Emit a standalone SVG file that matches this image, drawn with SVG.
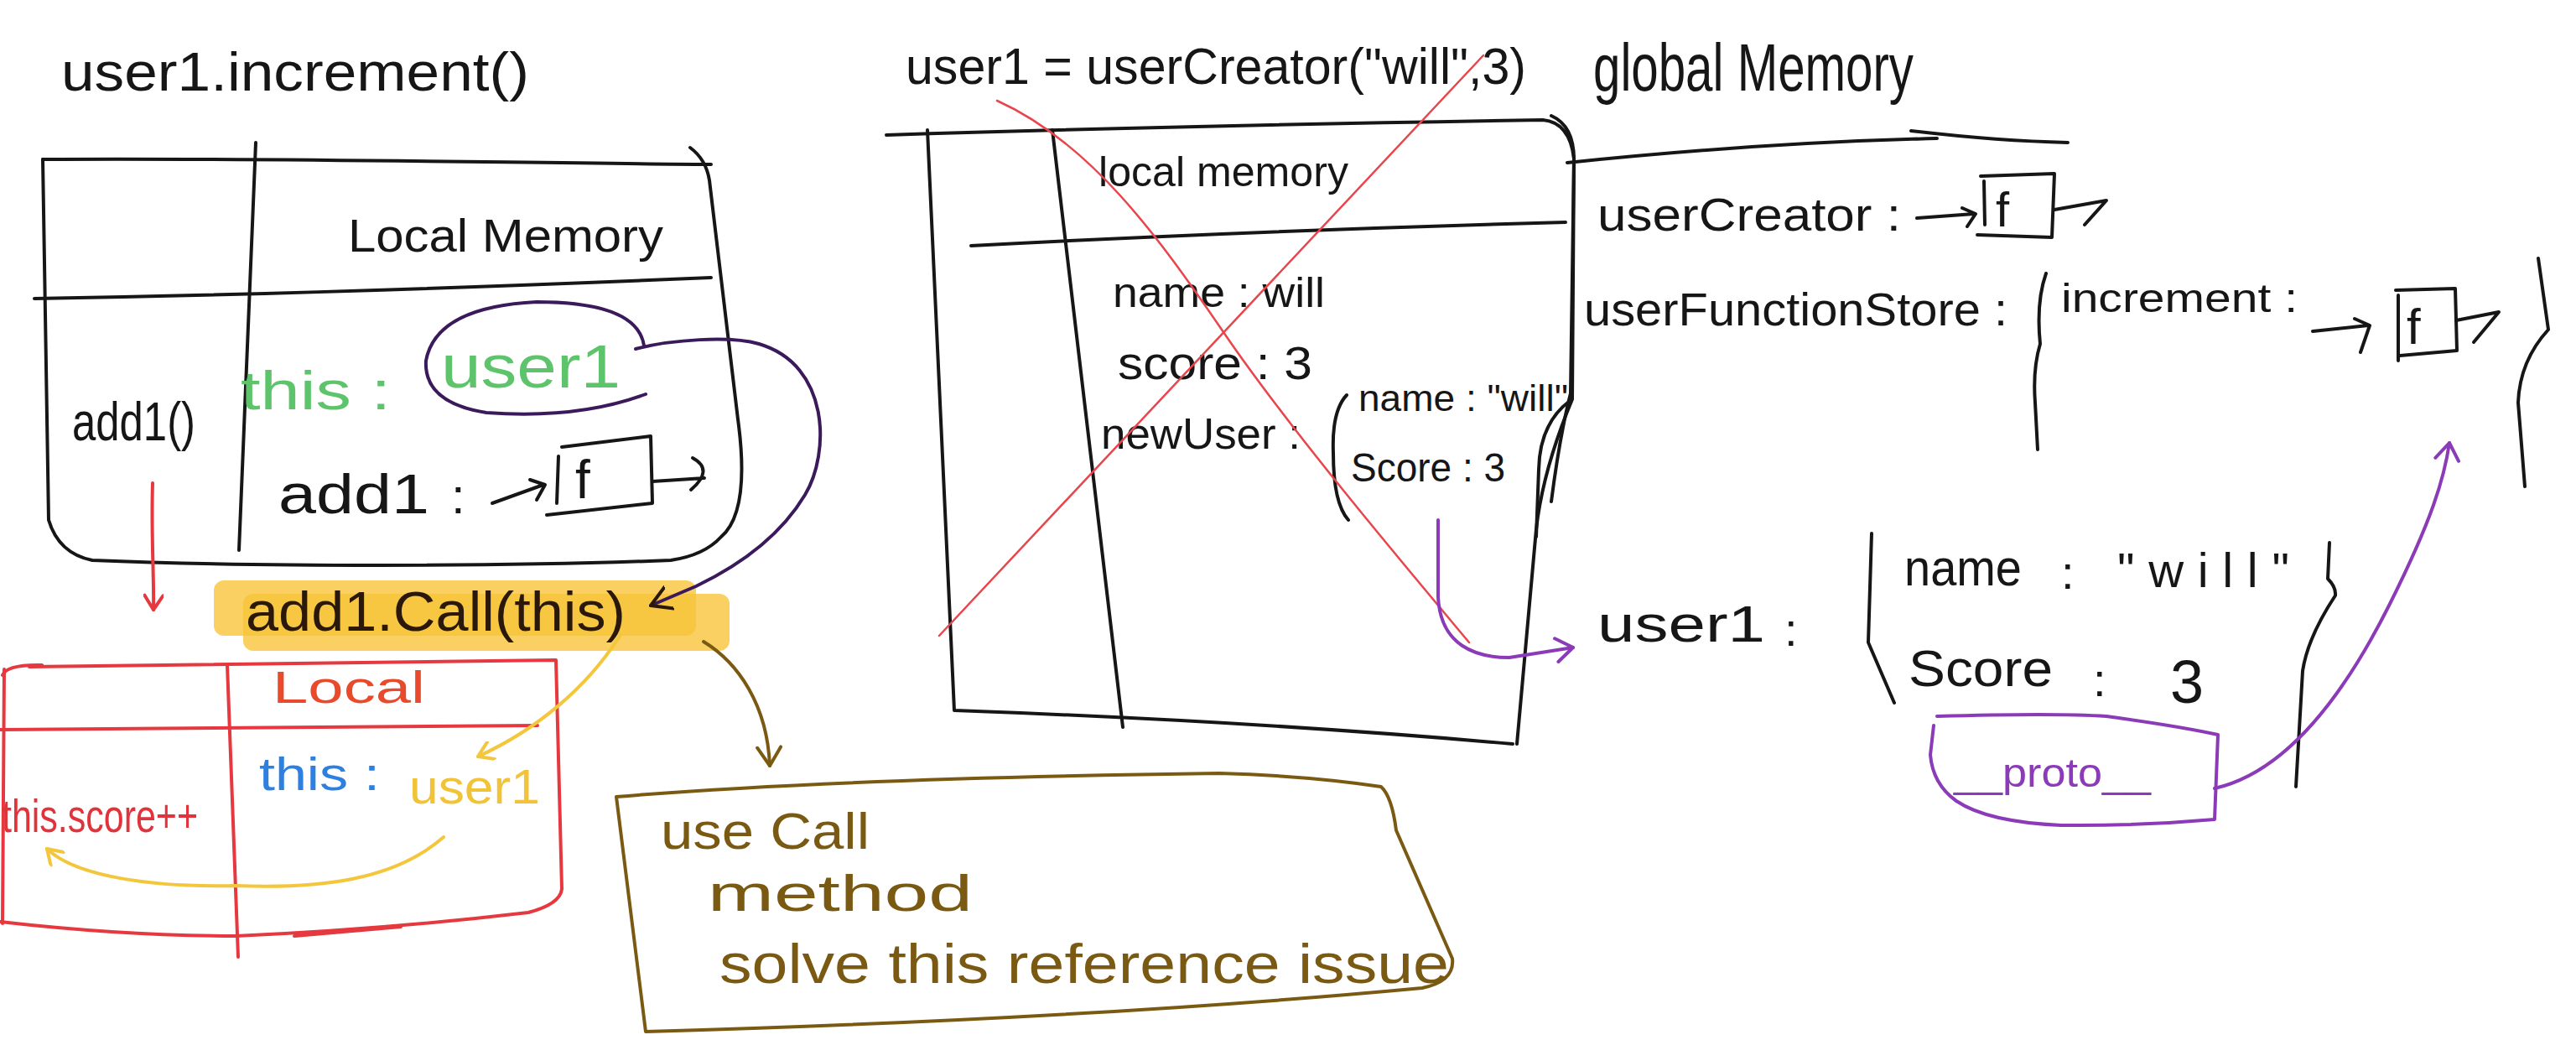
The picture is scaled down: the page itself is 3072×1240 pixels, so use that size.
<svg xmlns="http://www.w3.org/2000/svg" width="3072" height="1240" viewBox="0 0 3072 1240">
<style>
.ink{fill:none;stroke:#161616;stroke-width:4;stroke-linecap:round;stroke-linejoin:round}
.red{fill:none;stroke:#e5383f;stroke-width:4;stroke-linecap:round;stroke-linejoin:round}
.xred{fill:none;stroke:#e8454c;stroke-width:2.5;stroke-linecap:round}
.dpur{fill:none;stroke:#3b1a5c;stroke-width:4;stroke-linecap:round;stroke-linejoin:round}
.pur{fill:none;stroke:#8b3bb8;stroke-width:4;stroke-linecap:round;stroke-linejoin:round}
.yel{fill:none;stroke:#f3c63c;stroke-width:4;stroke-linecap:round;stroke-linejoin:round}
.olv{fill:none;stroke:#7a5a12;stroke-width:4;stroke-linecap:round;stroke-linejoin:round}
.t{font-family:"Liberation Sans",Arial,sans-serif;fill:#161616}
.tg{fill:#5ec46c}.tr{fill:#e0343c}.to{fill:#ea4a2c}.tb{fill:#2d7fe0}.ty{fill:#f1c338}.tol{fill:#7a5a12}.tp{fill:#8b3bb8}.td{fill:#2a180a}
.hl{fill:#f8c43a;opacity:.8}
</style>
<defs>
<marker id="ah-red" viewBox="-20 -12 24 24" refX="0" refY="0" markerWidth="24" markerHeight="24" markerUnits="userSpaceOnUse" orient="auto"><path d="M-17,-11 L0,0 L-17,11" fill="none" stroke="#e5383f" stroke-width="4" stroke-linecap="round" stroke-linejoin="round"/></marker>
<marker id="ah-yel" viewBox="-20 -12 24 24" refX="0" refY="0" markerWidth="24" markerHeight="24" markerUnits="userSpaceOnUse" orient="auto"><path d="M-17,-11 L0,0 L-17,11" fill="none" stroke="#f3c63c" stroke-width="4" stroke-linecap="round" stroke-linejoin="round"/></marker>
<marker id="ah-olv" viewBox="-24 -16 28 32" refX="0" refY="0" markerWidth="28" markerHeight="32" markerUnits="userSpaceOnUse" orient="auto"><path d="M-22,-14 L0,0 L-22,14" fill="none" stroke="#7a5a12" stroke-width="4" stroke-linecap="round" stroke-linejoin="round"/></marker>
<marker id="ah-pur" viewBox="-24 -16 28 32" refX="0" refY="0" markerWidth="28" markerHeight="32" markerUnits="userSpaceOnUse" orient="auto"><path d="M-20,-14 L0,0 L-20,14" fill="none" stroke="#8b3bb8" stroke-width="4" stroke-linecap="round" stroke-linejoin="round"/></marker>
<marker id="ah-dpur" viewBox="-24 -16 28 32" refX="0" refY="0" markerWidth="28" markerHeight="32" markerUnits="userSpaceOnUse" orient="auto"><path d="M-24,-14 L0,0 L-24,14" fill="none" stroke="#2a180a" stroke-width="4" stroke-linecap="round" stroke-linejoin="round"/></marker>
</defs>
<rect width="3072" height="1240" fill="#ffffff"/>

<g id="left-execution-context">
<text class="t" x="73" y="108" font-size="64" textLength="558" lengthAdjust="spacingAndGlyphs">user1.increment()</text>
<path class="ink" d="M51,190 C300,188 600,194 848,196"/>
<path class="ink" d="M823,176 Q842,190 846,215 L880,500 Q895,610 860,640 Q840,662 800,668 C600,676 300,676 110,668 Q70,660 58,620 L51,190"/>
<path class="ink" d="M305,170 L285,656"/>
<path class="ink" d="M41,356 Q400,350 848,331"/>
<text class="t" x="415" y="300" font-size="56" textLength="376" lengthAdjust="spacingAndGlyphs">Local Memory</text>
<text class="t" x="86" y="525" font-size="64" textLength="147" lengthAdjust="spacingAndGlyphs">add1()</text>
<text class="t tg" x="287" y="488" font-size="64" textLength="179" lengthAdjust="spacingAndGlyphs">this :</text>
<path class="dpur" d="M768,412 Q760,360 640,360 Q520,366 508,430 Q505,480 580,492 Q690,500 770,470"/>
<text class="t tg" x="526" y="462" font-size="72" textLength="214" lengthAdjust="spacingAndGlyphs">user1</text>
<text class="t" x="332" y="612" font-size="66" textLength="180" lengthAdjust="spacingAndGlyphs">add1</text>
<text class="t" x="538" y="612" font-size="60">:</text>
<path class="ink" d="M587,600 L648,578 M632,572 L650,578 L640,596"/>
<path class="ink" d="M670,533 L776,520 L778,600 L652,614 M666,544 L664,600"/>
<text class="t" x="686" y="594" font-size="64">f</text>
<path class="ink" d="M778,574 L840,570 M826,546 Q852,560 824,584"/>
</g>

<g id="call-highlight">
<rect class="hl" x="255" y="692" width="575" height="66" rx="12"/>
<rect class="hl" x="290" y="708" width="580" height="68" rx="12"/>
<text class="t td" x="293" y="752" font-size="66" textLength="453" lengthAdjust="spacingAndGlyphs">add1.Call(this)</text>
</g>

<g id="red-execution-context">
<path class="red" d="M3,805 Q8,792 50,793 M35,795 Q350,790 663,787 L670,1060 Q668,1078 630,1088 Q460,1108 281,1116 Q150,1116 0,1099"/>
<path class="red" d="M5,798 L3,1101"/>
<path class="red" d="M351,1116 L478,1105"/>
<path class="red" d="M0,870 L641,865"/>
<path class="red" d="M271,793 L284,1141"/>
<text class="t to" x="325" y="838" font-size="54" textLength="182" lengthAdjust="spacingAndGlyphs">Local</text>
<text class="t tb" x="309" y="942" font-size="56" textLength="144" lengthAdjust="spacingAndGlyphs">this :</text>
<text class="t ty" x="488" y="958" font-size="58" textLength="156" lengthAdjust="spacingAndGlyphs">user1</text>
<text class="t tr" x="2" y="992" font-size="56" textLength="234" lengthAdjust="spacingAndGlyphs">this.score++</text>
</g>

<g id="note-box">
<path class="olv" d="M735,950 Q1000,928 1454,922 Q1560,925 1647,938 Q1660,950 1665,990 L1732,1143 Q1735,1170 1696,1178 Q1300,1215 770,1230 L735,950"/>
<text class="t tol" x="788" y="1012" font-size="62" textLength="249" lengthAdjust="spacingAndGlyphs">use Call</text>
<text class="t tol" x="844" y="1086" font-size="62" textLength="316" lengthAdjust="spacingAndGlyphs">method</text>
<text class="t tol" x="858" y="1172" font-size="66" textLength="870" lengthAdjust="spacingAndGlyphs">solve this reference issue</text>
</g>

<g id="usercreator-execution-context">
<text class="t" x="1080" y="100" font-size="62" textLength="740" lengthAdjust="spacingAndGlyphs">user1 = userCreator("will",3)</text>
<path class="ink" d="M1057,161 Q1400,150 1840,143 Q1872,146 1877,189 L1875,476 Q1840,560 1832,631 L1809,887"/>
<path class="ink" d="M1106,155 L1138,847 Q1500,860 1804,887"/>
<path class="ink" d="M1255,155 L1339,867"/>
<path class="ink" d="M1158,293 Q1500,275 1867,265"/>
<text class="t" x="1310" y="222" font-size="50" textLength="298" lengthAdjust="spacingAndGlyphs">local memory</text>
<text class="t" x="1327" y="366" font-size="50" textLength="253" lengthAdjust="spacingAndGlyphs">name : will</text>
<text class="t" x="1333" y="452" font-size="56" textLength="232" lengthAdjust="spacingAndGlyphs">score : 3</text>
<text class="t" x="1313" y="535" font-size="52" textLength="238" lengthAdjust="spacingAndGlyphs">newUser :</text>
<path class="ink" d="M1606,471 Q1588,490 1590,540 Q1590,600 1608,620"/>
<text class="t" x="1620" y="490" font-size="44" textLength="250" lengthAdjust="spacingAndGlyphs">name : "will"</text>
<text class="t" x="1611" y="574" font-size="48" textLength="184" lengthAdjust="spacingAndGlyphs">Score : 3</text>
<path class="ink" d="M1872,478 Q1836,505 1835,560 L1832,640"/>
<path class="xred" d="M1189,120 C1300,170 1380,280 1459,396 S1680,680 1752,766"/>
<path class="xred" d="M1769,66 L1120,758"/>
</g>

<g id="global-memory">
<text class="t" x="1900" y="108" font-size="80" textLength="382" lengthAdjust="spacingAndGlyphs">global Memory</text>
<path class="ink" d="M1850,138 Q1877,150 1877,190 L1873,469 Q1860,520 1850,598"/>
<path class="ink" d="M1869,194 Q2100,170 2310,165 M2279,156 Q2380,168 2466,170"/>
<text class="t" x="1905" y="275" font-size="56" textLength="362" lengthAdjust="spacingAndGlyphs">userCreator :</text>
<path class="ink" d="M2286,260 L2354,255 M2340,248 L2356,255 L2346,270"/>
<path class="ink" d="M2362,210 L2450,207 L2447,283 L2358,280 M2366,216 L2367,268"/>
<text class="t" x="2380" y="270" font-size="58">f</text>
<path class="ink" d="M2450,250 L2512,239 L2486,268"/>
<text class="t" x="1889" y="388" font-size="56" textLength="505" lengthAdjust="spacingAndGlyphs">userFunctionStore :</text>
<path class="ink" d="M2440,326 Q2428,360 2433,410 Q2424,440 2427,480 L2430,536"/>
<text class="t" x="2458" y="372" font-size="48" textLength="282" lengthAdjust="spacingAndGlyphs">increment :</text>
<path class="ink" d="M2758,395 L2824,388 M2808,380 L2826,388 L2815,420"/>
<path class="ink" d="M2857,346 L2928,344 L2930,418 L2862,424 M2860,352 L2860,430"/>
<text class="t" x="2870" y="410" font-size="60">f</text>
<path class="ink" d="M2929,382 L2980,372 L2950,408"/>
<path class="ink" d="M3027,308 L3039,393 Q3005,430 3003,480 L3011,580"/>
</g>

<g id="user1-object">
<text class="t" x="1905" y="765" font-size="62" textLength="200" lengthAdjust="spacingAndGlyphs">user1</text>
<text class="t" x="2128" y="770" font-size="56">:</text>
<path class="ink" d="M2232,636 L2228,766 L2259,838"/>
<text class="t" x="2271" y="698" font-size="62" textLength="140" lengthAdjust="spacingAndGlyphs">name</text>
<text class="t" x="2458" y="702" font-size="56">:</text>
<text class="t" x="2525" y="700" font-size="58" textLength="205" lengthAdjust="spacing">"will"</text>
<text class="t" x="2276" y="818" font-size="62" textLength="172" lengthAdjust="spacingAndGlyphs">Score</text>
<text class="t" x="2496" y="830" font-size="56">:</text>
<text class="t" x="2588" y="838" font-size="72">3</text>
<path class="ink" d="M2778,647 L2776,690 Q2786,700 2785,710 Q2752,760 2746,800 L2738,938"/>
</g>

<g id="proto-box">
<path class="pur" d="M2310,854 Q2450,850 2512,854 Q2600,866 2645,876 L2641,977 Q2550,985 2458,984 Q2370,980 2333,955 Q2305,935 2302,900 L2306,865"/>
<text class="t tp" x="2330" y="938" font-size="48" textLength="235" lengthAdjust="spacingAndGlyphs">__proto__</text>
</g>

<g id="connectors">
<path class="dpur" d="M758,416 C800,405 870,400 905,410 C990,435 990,540 960,590 C930,640 880,675 830,699 L776,722" marker-end="url(#ah-dpur)"/>
<path class="red" d="M182,576 C180,640 184,690 183,727" marker-end="url(#ah-red)"/>
<path class="yel" d="M740,757 C700,820 640,870 570,902" marker-end="url(#ah-yel)"/>
<path class="yel" d="M529,998 C470,1050 380,1060 281,1056 C180,1058 90,1045 56,1012" marker-end="url(#ah-yel)"/>
<path class="olv" d="M839,765 C880,790 915,840 918,913" marker-end="url(#ah-olv)"/>
<path class="pur" d="M1715,620 L1715,712 C1718,770 1760,784 1800,784 L1876,772" marker-end="url(#ah-pur)"/>
<path class="pur" d="M2641,940 C2730,920 2800,820 2850,720 C2900,620 2915,570 2921,528" marker-end="url(#ah-pur)"/>
</g>
</svg>
